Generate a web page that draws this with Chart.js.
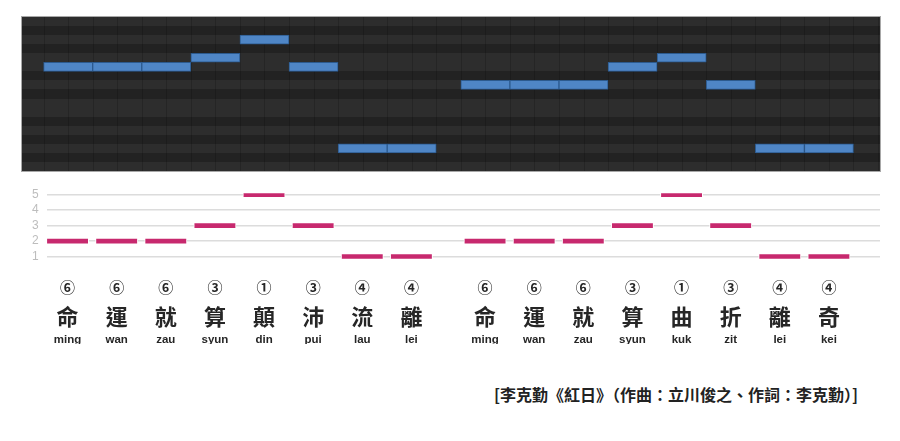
<!DOCTYPE html>
<html>
<head>
<meta charset="utf-8">
<script src="https://cdn.jsdelivr.net/npm/chart.js@4"></script>
<style>
    body { margin: 0; background: #fff; width: 900px; height: 441px; overflow: hidden; position: relative; }
    #rollBox { position: absolute; left: 0; top: 0; width: 900px; height: 180px; }
    #toneBox { position: absolute; left: 0; top: 178px; width: 900px; height: 170px; }
    #caption {
        position: absolute; right: 42px; top: 384px;
        font: bold 16px "Noto Sans CJK TC", sans-serif; color: #222; line-height: 20px;
    }
</style>
</head>
<body>
<div id="rollBox"><canvas id="rollChart" width="900" height="180"></canvas></div>
<div id="toneBox"><canvas id="toneChart" width="900" height="170"></canvas></div>
<div id="caption">[李克勤《紅日》（作曲：立川俊之、作詞：李克勤）]</div>
<script>
// Lyrics line: 命運就算顛沛流離 / 命運就算曲折離奇
const characters = ['命', '運', '就', '算', '顛', '沛', '流', '離', '命', '運', '就', '算', '曲', '折', '離', '奇'];
const syllables = ['ming', 'wan', 'zau', 'syun', 'din', 'pui', 'lau', 'lei', 'ming', 'wan', 'zau', 'syun', 'kuk', 'zit', 'lei', 'kei'];
const toneMarks = ['⑥', '⑥', '⑥', '③', '①', '③', '④', '④', '⑥', '⑥', '⑥', '③', '①', '③', '④', '④'];

// Relative pitch level of each syllable (1 = low, 5 = high)
const toneLevels = [2, 2, 2, 3, 5, 3, 1, 1, 2, 2, 2, 3, 5, 3, 1, 1];
const toneTicks = [1, 2, 3, 4, 5];

// Melody: start beat, length in beats, MIDI pitch
const noteStarts = [0, 1, 2, 3, 4, 5, 6, 7, 8.5, 9.5, 10.5, 11.5, 12.5, 13.5, 14.5, 15.5];
const noteLengths = [1, 1, 1, 1, 1, 1, 1, 1, 1, 1, 1, 1, 1, 1, 1, 1];
const notePitches = [76, 76, 76, 77, 79, 76, 67, 67, 74, 74, 74, 76, 77, 74, 67, 67];
const pitchRange = [65, 81];

const BLACK_KEYS = [1, 3, 6, 8, 10];
const noteCenters = noteStarts.map((s, i) => s + noteLengths[i] / 2);

/**
 * Paints the piano-roll background: one stripe per semitone plus faint beat lines
 */
const pianoRollPlugin = {
    id: 'pianoRoll',
    beforeDatasetsDraw(chart) {
        const { ctx, chartArea, scales } = chart;
        ctx.save();
        for (let p = pitchRange[0]; p <= pitchRange[1]; p++) {
            const top = Math.round(scales.y.getPixelForValue(p + 0.5));
            const bottom = Math.round(scales.y.getPixelForValue(p - 0.5));
            ctx.fillStyle = BLACK_KEYS.includes(p % 12) ? '#222222' : '#2d2d2d';
            ctx.fillRect(chartArea.left, top, chartArea.right - chartArea.left, bottom - top);
        }
        // faint beat grid
        ctx.strokeStyle = 'rgba(0,0,0,0.16)';
        ctx.lineWidth = 1;
        for (let b = 0; b <= scales.x.max; b += 0.5) {
            const x = Math.round(scales.x.getPixelForValue(b)) + 0.5;
            ctx.beginPath();
            ctx.moveTo(x, chartArea.top);
            ctx.lineTo(x, chartArea.bottom);
            ctx.stroke();
        }
        ctx.restore();
    },
    afterDraw(chart) {
        const { ctx, chartArea } = chart;
        ctx.save();
        ctx.strokeStyle = '#a8a8a8';
        ctx.lineWidth = 1;
        ctx.strokeRect(Math.round(chartArea.left) - 0.5, Math.round(chartArea.top) - 0.5,
            Math.round(chartArea.right - chartArea.left) + 1, Math.round(chartArea.bottom - chartArea.top) + 1);
        ctx.restore();
    }
};

const beatMin = -0.44;
const beatMax = 17.04;

// Piano roll (top)
new Chart(document.getElementById('rollChart'), {
    type: 'bar',
    data: {
        datasets: [{
            data: noteStarts.map((s, i) => ({ x: [s, s + noteLengths[i]], y: notePitches[i] })),
            backgroundColor: '#4f86c6',
            borderColor: '#2c5a8e',
            borderWidth: 1,
            borderSkipped: false,
            barThickness: 9
        }]
    },
    options: {
        indexAxis: 'y',
        responsive: false,
        animation: false,
        layout: { padding: { left: 22, right: 20, top: 17, bottom: 9 } },
        plugins: { legend: { display: false }, tooltip: { enabled: false } },
        scales: {
            x: { type: 'linear', min: beatMin, max: beatMax, offset: false, display: false },
            y: { type: 'linear', min: pitchRange[0] - 0.5, max: pitchRange[1] + 0.5, offset: false, display: false }
        }
    },
    plugins: [pianoRollPlugin]
});

/**
 * Builds a bottom label row that puts one text under each note
 * @param {Array} labels - Text for each note
 * @param {Object} font - Font options (lineHeight sets the row height)
 * @param {number} weight - Stacking order below the chart
 */
const labelAxis = (labels, font, weight) => ({
    type: 'linear',
    position: 'bottom',
    min: 0.075,
    max: beatMax,
    offset: false,
    weight,
    grid: { display: false, drawTicks: false },
    border: { display: false },
    afterBuildTicks: scale => { scale.ticks = noteCenters.map(v => ({ value: v })); },
    ticks: {
        autoSkip: false,
        maxRotation: 0,
        padding: 0,
        color: '#262626',
        font,
        callback: (value, index) => labels[index]
    }
});

// Tone level chart (bottom)
new Chart(document.getElementById('toneChart'), {
    type: 'bar',
    data: {
        datasets: [{
            data: noteStarts.map((s, i) => ({ x: [s + 0.07, s + noteLengths[i] - 0.07], y: toneLevels[i] })),
            backgroundColor: '#c7296e',
            borderColor: '#ffffff',
            borderWidth: 1,
            borderSkipped: false,
            barThickness: 6,
            xAxisID: 'x'
        }]
    },
    options: {
        indexAxis: 'y',
        responsive: false,
        animation: false,
        layout: { padding: { left: 24, right: 20, top: 8.5, bottom: 4 } },
        plugins: { legend: { display: false }, tooltip: { enabled: false } },
        scales: {
            x: labelAxis(toneMarks, { family: '"Noto Sans CJK TC"', size: 15, weight: 'bold', lineHeight: '24px' }, 0),
            xc: labelAxis(characters, { family: '"Noto Sans CJK TC"', size: 22, weight: 'bold', lineHeight: '36px' }, 1),
            xr: labelAxis(syllables, { family: '"Liberation Sans"', size: 11.5, weight: 'bold', lineHeight: '9px' }, 2),
            y: {
                type: 'linear',
                min: -0.195,
                max: 5.096,
                offset: false,
                afterBuildTicks: scale => { scale.ticks = toneTicks.map(v => ({ value: v })); },
                grid: { color: '#dcdcdc', lineWidth: 1.5, drawTicks: false, offset: false },
                border: { display: false },
                ticks: {
                    autoSkip: false,
                    padding: 8,
                    color: '#bdbdbd',
                    font: { family: '"Liberation Sans"', size: 12 }
                }
            }
        }
    }
});
</script>
</body>
</html>
